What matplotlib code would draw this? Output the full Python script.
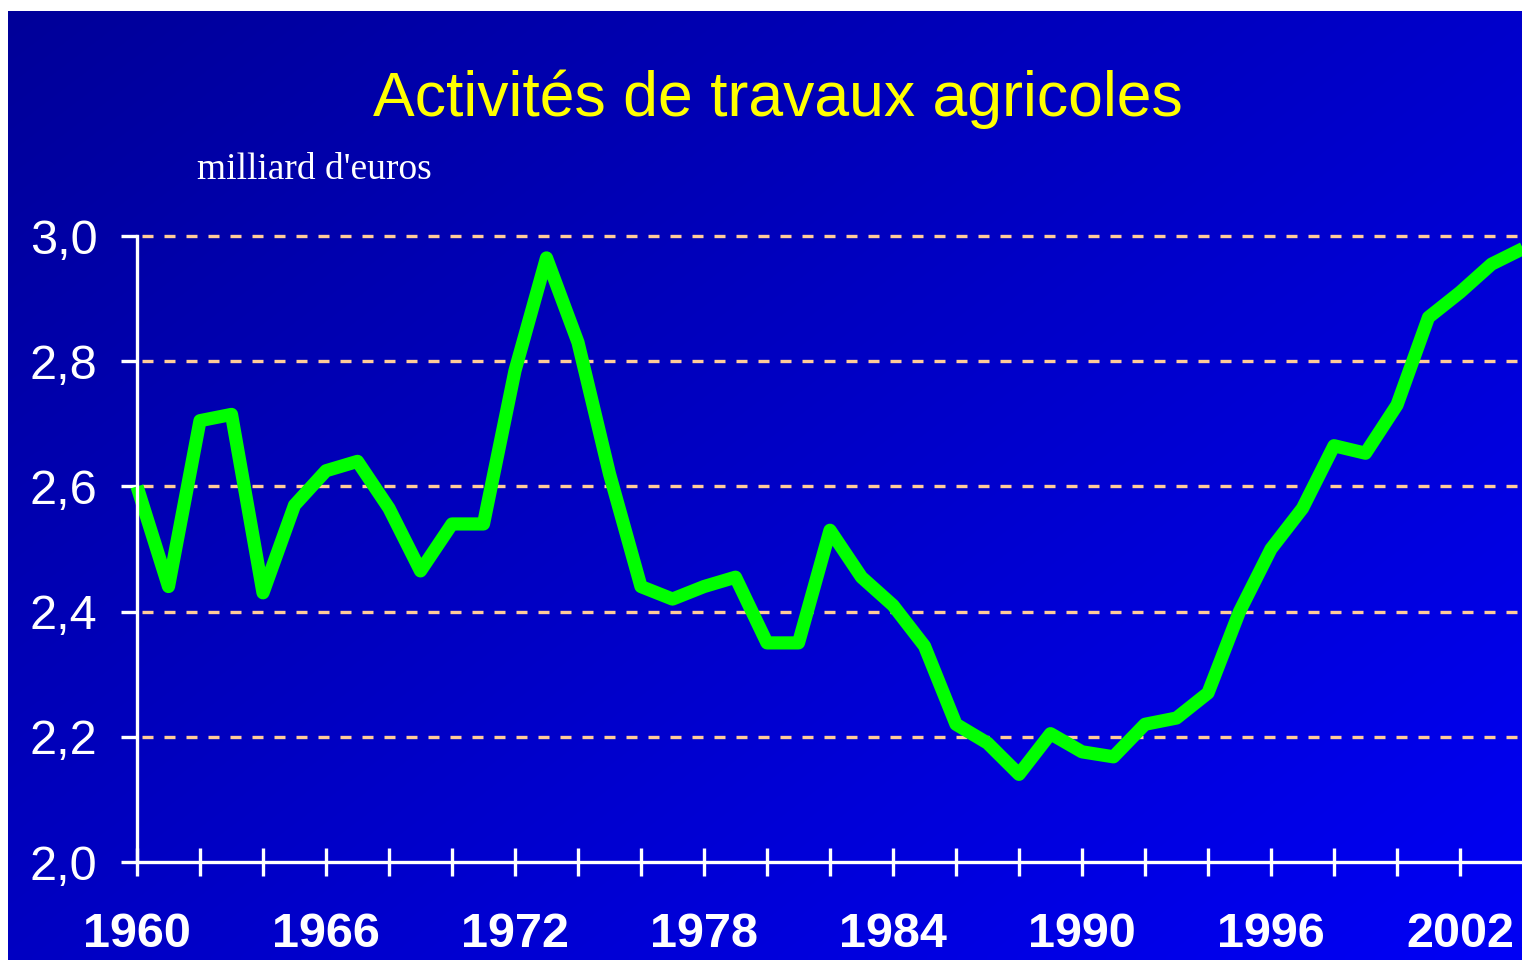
import numpy as np
import matplotlib
matplotlib.use("Agg")
import matplotlib.pyplot as plt

# ---- data ----
years = list(range(1960, 2005))
values = [2.60, 2.44, 2.705, 2.715, 2.43, 2.57, 2.625, 2.64, 2.565, 2.465,
          2.54, 2.54, 2.785, 2.965, 2.83, 2.62, 2.44, 2.42, 2.44, 2.455,
          2.35, 2.35, 2.53, 2.455, 2.41, 2.345, 2.22, 2.19, 2.14, 2.205,
          2.176, 2.168, 2.22, 2.23, 2.27, 2.40, 2.50, 2.565, 2.665, 2.653,
          2.73, 2.87, 2.91, 2.955, 2.98]
y_ticks = [2.0, 2.2, 2.4, 2.6, 2.8, 3.0]
y_labels = ["2,0", "2,2", "2,4", "2,6", "2,8", "3,0"]
x_ticks = list(range(1960, 2004, 2))
x_label_years = [1960, 1966, 1972, 1978, 1984, 1990, 1996, 2002]
title = "Activités de travaux agricoles"
unit = "milliard d'euros"

W, H = 1522, 960
narrow = ["Liberation Sans Narrow", "Liberation Sans", "DejaVu Sans"]

fig = plt.figure(figsize=(W / 100, H / 100), dpi=100)
fig.patch.set_facecolor("white")

# background gradient
bg = fig.add_axes([0, 0, 1, 1])
bg.set_xlim(0, W)
bg.set_ylim(H, 0)
bg.axis("off")
gx = np.linspace(0, 1, 200)
gy = np.linspace(0, 1, 120)
GX, GY = np.meshgrid(gx, gy)
t = (GX * 0.55 + GY * 0.45)
blue = 0.60 + 0.36 * t
img = np.zeros((len(gy), len(gx), 3))
img[..., 2] = blue
bg.imshow(img, extent=[8, W, H, 11], aspect="auto", interpolation="bilinear")

# main axes
x0, x1 = 137, 1523
ytop, ybot = 236, 862
ax = fig.add_axes([x0 / W, (H - ybot) / H, (x1 - x0) / W, (ybot - ytop) / H])
ax.patch.set_alpha(0)
ax.set_xlim(1960, 2004)
ax.set_ylim(2.0, 3.0)

for sp in ["top", "right"]:
    ax.spines[sp].set_visible(False)
for sp in ["left", "bottom"]:
    ax.spines[sp].set_color("white")
    ax.spines[sp].set_linewidth(2.4)
    ax.spines[sp].set_zorder(4)

# dashed grid
ax.hlines(y_ticks[1:], 1960.15, 2004, colors="#FFCC99", linewidth=2.4,
          linestyles=(0, (3.3, 3.3)), clip_on=False, zorder=1)

ax.plot(years, values, color="#00FF00", linewidth=9.5, solid_joinstyle="round",
        solid_capstyle="butt", clip_on=False, zorder=3)

ax.set_yticks(y_ticks)
ax.set_yticklabels(y_labels)
ax.tick_params(axis="y", colors="white", length=11.5, width=2.4, direction="out",
               pad=17, labelsize=35)
for lab in ax.get_yticklabels():
    lab.set_family(narrow)
    lab.set_color("white")

ax.set_xticks(x_ticks)
ax.set_xticklabels([str(y) if y in x_label_years else "" for y in x_ticks])
ax.tick_params(axis="x", colors="white", length=20, width=2.4, direction="inout",
               pad=26, labelsize=35)
for lab in ax.get_xticklabels():
    lab.set_family(narrow)
    lab.set_weight("bold")
    lab.set_color("white")

fig.text(778 / W, 1 - 116 / H, title, color="#FFFF00", fontsize=45,
         family=narrow, ha="center", va="baseline")
fig.text(197 / W, 1 - 179 / H, unit, color="white", fontsize=27,
         family=["Liberation Serif", "DejaVu Serif"], ha="left", va="baseline")

fig.savefig("out.png", dpi=100)
